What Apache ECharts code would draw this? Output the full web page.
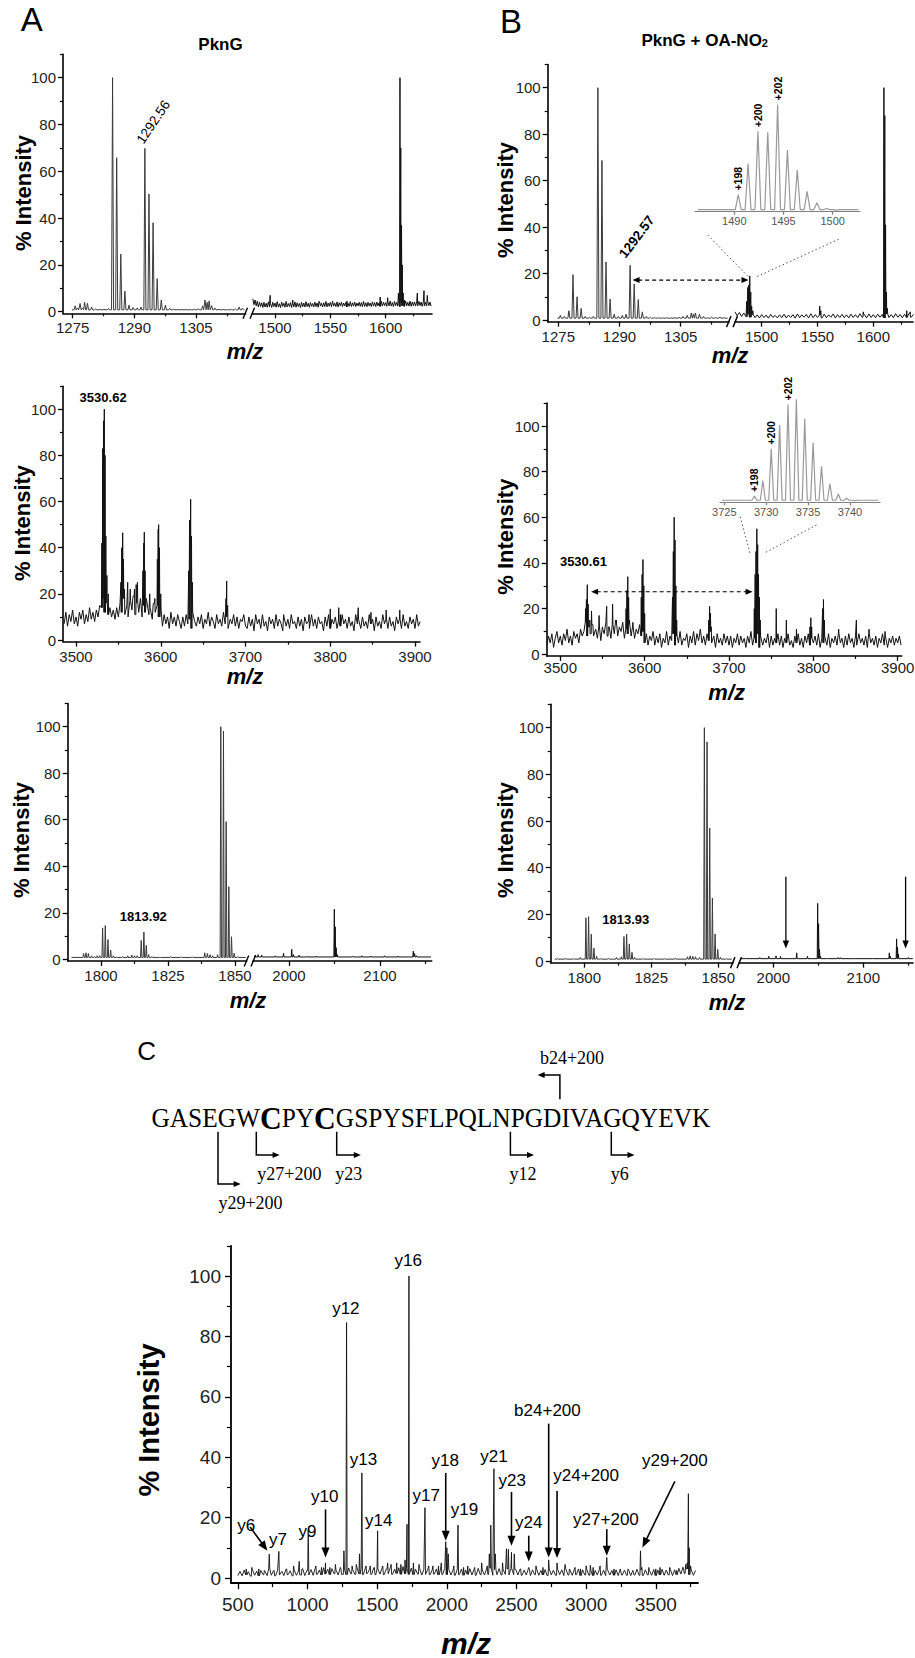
<!DOCTYPE html>
<html><head><meta charset="utf-8">
<script src="https://cdn.jsdelivr.net/npm/echarts@6/dist/echarts.min.js"></script>
<style>html,body{margin:0;padding:0;background:#fff}#c{width:915px;height:1658px}</style>
</head><body><div id="c"></div>
<script>
// ================= DATA =================
// tick labels
const yTicks = [0, 20, 40, 60, 80, 100];
const yMinor = [10, 30, 50, 70, 90, 110];
const lowTicks = [1275, 1290, 1305];
const lowMinor = [1282.5, 1297.5, 1312.5];
const highTicks = [1500, 1550, 1600];
const highMinor = [1525, 1575, 1625];
const midTicks = [3500, 3600, 3700, 3800, 3900];
const midMinor = [3550, 3650, 3750, 3850];
const botLTicks = [1800, 1825, 1850];
const botLMinor = [1812.5, 1837.5];
const botRTicks = [2000, 2100];
const botRMinor = [2050, 2150];
const cTicks = [500, 1000, 1500, 2000, 2500, 3000, 3500];
const cMinor = [750, 1250, 1750, 2250, 2750, 3250, 3750];
const inset1Ticks = [1490, 1495, 1500];
const inset2Ticks = [3725, 3730, 3735, 3740];

// ---- Panel A, top (PknG) : peaks [m/z, % intensity]
const a1LPeaks = [[1275.6,2.5],[1276.2,1.6],[1276.8,3.5],[1277.4,1.6],[1277.9,4],[1278.6,3.6],[1279.6,2],[1280.6,1.2],[1281.6,1],[1282.6,1.1],[1283.7,1.4],
 [1284.7,100],[1285.7,65.8],[1286.7,24.6],[1287.7,8.8],[1288.7,2.8],[1289.7,1.8],[1290.7,1.6],[1291.6,2],
 [1292.56,69.8],[1293.56,50.3],[1294.56,38],[1295.56,14.1],[1296.56,5],[1297.56,2.8],[1298.6,1.5],[1299.6,1.1],[1300.6,1],[1301.6,0.9],[1302.6,1],[1303.6,0.9],[1304.6,1.1],[1305.6,1.3],
 [1306.6,2.5],[1307.2,5],[1307.7,4],[1308.2,4.6],[1308.8,2.6],[1309.6,1.6],[1310.6,1.1],[1311.6,1],[1312.6,0.9],[1313.6,1],[1314.6,1.2],[1315.5,2],[1316.3,1.5]];
const a1RNoise = [5.5,3,5,2.5,4.5,2,4,2.2,3.8,1.8, 4,2,3.6,1.9,4.2,2.1,3.5,1.8,4,2.2, 3.7,1.9,4.3,2,3.4,1.7,4.1,2.3,3.6,1.9, 4.4,2,3.5,2.2,3.9,1.8,3.6,2.1,4.2,1.9,
 3.8,2.2,3.5,1.8,4,2.1,3.7,2,4.3,2.2, 3.6,1.9,3.9,2.3,3.5,2,4.1,2.2,3.7,1.9, 4.2,2.4,3.6,2,3.8,2.2,4.4,2.1,3.7,2.3, 4,2.1,3.9,2.4,3.6,2.2,4.2,2,3.8,2.5,
 4.1,2.2,3.7,2.4,4,2.1,3.6,2.3,4.3,2.2, 3.8,2.4,4.1,2.2,3.7,2.5,4,2.3,3.9,2.2, 4.4,2.3,3.8,2.1,4,2.5,3.7,2.2,4.2,2.4, 3.9,2.2,4.1,2.5,3.8,2.3,4.5,2.4,4,2.6,
 3.9,2.3,4.2,2.5,4.6,2.4,3.9,2.2,4.4,2.6, 4,2.4,4.3,2.2,3.9,2.5,4.1,2.3,4.6,2.5, 4,2.4,4.5,2.3,4.1,2.6,4.2,2.4,4.3,2.5, 4.4,2.6,4.1,2.3,4.2,2.5,4,2.4,4.5,2.6,
 4.1,2.4];
const a1RPeaks = [[1495.6,7],[1516,5],[1540,4.5],[1552,4.5],[1565,4.5],[1595,6.3],[1601.8,6],[1611.5,8],[1612.9,100],[1613.6,70],[1614.3,37],[1615,20],[1615.8,8],[1616.8,5],[1628.6,8],[1634.6,9],[1637.6,7]];

// ---- Panel A, middle
const a2Noise = [7,12,6,11,8,13,7,10,6,12,9,13,7,11,8,14,9,12,8,13,10,15,
 14,18,12,16,11,14,10,13,
 9,14,10,16,12,18,11,15,10,17,13,19,11,16,12,18,10,15,12,17,11,14,9,16,12,15,10,13,
 6,11,7,10,5,12,7,10,6,11, 8,5,10,6,11,7,9,5,12,8, 6,10,7,11,5,9,7,12,6,10, 8,5,11,7,9,6,12,7,10,5, 9,7,11,6,10,5,9,8,11,6,
 5,10,6,9,4,11,7,9,5,10, 6,8,4,10,7,9,5,11,6,9, 7,4,10,6,9,5,11,7,8,5, 10,6,9,4,10,7,8,5,11,6, 9,5,10,7,8,4,10,6,11,5,
 9,7,10,5,8,6,11,7,9,5, 10,6,8,4,11,7,9,5,10,6, 8,5,11,7,9,4,10,6,8,5, 11,7,9,5,10,6,8,4,10,7, 9,5,11,6,8,5,10,7,9,5, 11,6,8];
const a2Peaks = [[3530.5,42],[3531.5,83],[3532.5,95],[3533.4,100],[3534.3,80],[3535.2,45],[3536.5,28],[3538,20],
 [3553,25],[3554,40],[3555.1,46.5],[3556,35],[3557.2,22],[3561,25],[3564,22],[3567,18],[3569,22],[3571,24],[3572.5,25],
 [3579,30],[3580,42],[3580.6,46.7],[3581.5,30],[3583,18],[3587,20],[3591,15],[3593,18],
 [3596,35],[3597,48],[3597.5,50],[3598.5,40],[3600,20],[3633,30],[3634,52],[3635.3,61],[3636.3,45],[3637.3,25],
 [3677,18],[3677.8,25.6],[3679,15],[3720,11],[3745,11],[3775,11],[3800,13.5],[3810,14],[3812,11],[3833,14],[3848,12],[3866,13],[3882,13]];

// ---- Panel A, bottom
const a3LPeaks = [[1793.5,2.5],[1794.4,2.8],[1795.3,2.5],[1796.5,1.5],[1797.5,1.2],[1798.5,1.5],[1799.5,1.6],
 [1800.6,13.5],[1801.6,14.5],[1802.6,8.5],[1803.6,4],[1804.6,1.5],[1806,1],[1808,1.2],[1810,1.5],[1811.5,1.8],[1812.5,1.5],[1813.5,1.5],
 [1815,8.1],[1816,11.7],[1816.9,6],[1817.8,2],[1819,1.2],[1822,0.9],[1826,1.2],[1830,1],[1834,1.1],
 [1838.7,2.8],[1839.7,2.5],[1840.7,2],[1841.7,1.5],[1843.5,2],
 [1844.7,100],[1845.7,98.1],[1846.7,59.2],[1847.7,31.2],[1848.7,9.7],[1849.7,2.6],[1851,1.2]];
const a3RPeaks = [[1963,1.8],[1966,2],[1970,1.8],[1985,1.5],[1994,2.6],[2003,4.3],[2005,2],[2011,1.8],[2020,1.3],[2030,1.4],
 [2049.8,21.5],[2050.8,14],[2051.8,5],[2053,2],[2070,1.3],[2080,1.5],[2090,1.4],[2105,1.5],[2120,1.4],[2136.6,3.5],[2138,2.5],[2140,1.5]];

// ---- Panel B, top (PknG + OA-NO2)
const b1LPeaks = [[1275.5,2],[1276.5,1.5],[1277.6,4],[1278.6,19.5],[1279.6,10],[1280.6,5],[1281.6,1.5],[1282.6,1.2],[1283.6,1.5],
 [1284.7,100],[1285.7,68.7],[1286.7,25],[1287.7,9],[1288.7,2.5],[1289.7,1.5],[1290.7,2],[1291.6,2.5],
 [1292.6,23.5],[1293.6,15.5],[1294.6,8.8],[1295.6,3.5],[1296.6,1.5],[1297.6,1.2],[1298.6,1],[1299.6,1],[1300.6,0.9],[1301.6,1],[1302.6,0.9],[1303.6,1],
 [1304.6,1.2],[1305.6,1.5],[1306.6,2],[1307.6,3],[1308.1,2.5],[1308.6,3],[1309.6,2.5],[1310.6,1.5],[1311.6,1],[1312.6,1.2],[1313.6,1],[1314.6,1.3],[1315.6,1]];
const b1RNoise = [3.5,1.8,3.2,1.5,3,1.4,2.6,1.2,2.4,1, 2.2,0.9,2.3,1,2.1,0.8,2.4,1.1,2,0.9, 2.2,1,2.5,0.9,2.1,1.1,2.3,0.8,2.6,1, 2.2,1.2,2.4,0.9,2.7,1,2.3,1.1,2.1,0.9,
 2.5,1,2.2,1.2,2.6,0.9,2.3,1.1,2.4,1, 2.2,0.9,2.5,1.1,2.3,1,2.7,1.2,2.4,0.9, 2.6,1.1,2.3,1,2.5,1.2,2.4,0.9,2.6,1.1, 2.3,1,2.7,1.2,2.4,1,2.5,1.1,2.8,1.2,
 2.4];
const b1RPeaks = [[1486.5,8],[1487.5,14],[1488.4,15],[1489.3,19],[1490.2,12],[1491,6],[1492,4],[1552,6],[1553,4],[1591,3.5],
 [1609.5,100],[1610.3,88],[1611,41],[1611.8,12],[1612.6,5],[1630,4],[1633,3.5]];
const b1InsetPeaks = [[1490.4,16],[1491.4,45],[1492.4,75],[1493.4,74],[1494.4,100],[1495.4,57.5],[1496.4,39],[1497.4,19],[1498.4,8.4],[1499.4,3],[1500.4,1.5]];

// ---- Panel B, middle
const b2Noise = [4,8,5,9,3,7,10,5,8,4,9,6,11,5,8,4,10,7,9,5,11,8,
 10,14,8,12,9,13,8,11,
 7,12,6,11,9,14,8,12,7,13,9,15,8,12,10,14,7,11,9,13,8,12,7,11,9,13,8,10,
 5,9,4,8,6,10,4,8,5,9, 3,7,5,10,4,8,6,9,4,8, 5,10,4,7,6,9,3,8,5,10, 4,9,6,11,5,8,4,9,6,10, 5,8,3,9,5,7,4,9,5,8,
 4,8,3,7,5,9,4,8,5,7, 3,8,5,10,4,7,5,9,3,8, 4,7,5,9,3,8,4,7,5,9, 4,8,3,7,5,9,4,6,3,8, 5,9,4,7,3,8,5,9,4,7,
 5,8,4,9,3,7,5,8,4,9, 3,7,5,8,4,9,5,7,3,8, 4,9,5,7,3,8,4,9,5,7, 4,8,3,9,5,7,4,8,3,7, 5,9,4,8,3,7,5,8,4,7, 5,8,4];
const b2Peaks = [[3530,20],[3531,24],[3532,30.5],[3533,22],[3535,15],[3537,19],[3539,13],[3546,17],[3550,12],[3555,21],[3557,12],[3562,22],[3566,14],
 [3578,20],[3579,28],[3580,34],[3581,25],[3582,15],[3586,14],[3596,25],[3597,35],[3598,41.5],[3599,30],[3600,18],
 [3633,25],[3634,45],[3635,60],[3636,50],[3637,30],[3638,15],[3676,15],[3677,21],[3678,18],[3679,12],
 [3730,20],[3731,35],[3732,45],[3733,55],[3734,48],[3735,35],[3736,25],[3737,15],
 [3756,20],[3768,15],[3780,11],[3796,12],[3797,16],[3798,12],[3811,20],[3812,24],[3813,15],[3830,11],[3851,15],[3866,11],[3885,10]];
const b2InsetPeaks = [[3728.6,6],[3729.6,21],[3730.6,52],[3731.6,75],[3732.6,95],[3733.6,100],[3734.6,81],[3735.6,58],[3736.6,35],[3737.6,18],[3738.6,8],[3739.6,4],[3740.6,1.5]];

// ---- Panel B, bottom
const b3LPeaks = [[1790,1],[1793,1.2],[1796,1],[1798.5,1.5],[1800.6,18.5],[1801.6,19],[1802.6,11.5],[1803.6,5.5],[1804.6,2],[1806,1],[1809,1.1],[1812,1.5],[1813.8,1.8],
 [1814.8,10.5],[1815.8,11.5],[1816.8,7.3],[1817.8,3.7],[1818.8,1.5],[1822,1],[1826,1.1],[1830,1],[1834,1.2],
 [1838.5,1.8],[1839.5,2.2],[1840.5,2],[1841.5,1.8],[1843,1.5],[1844.8,100],[1845.8,93.9],[1846.8,57],[1847.8,27],[1848.8,11.6],[1849.8,5],[1850.8,1.5],[1853,1]];
const b3RPeaks = [[1970,1.3],[1985,1.5],[1995,2],[2003,2.2],[2008,2],[2026,3.5],[2038,2],[2049.3,24.7],[2050.3,16],[2051.3,5],[2052.5,2],[2060,1.3],
 [2072,1.5],[2075,1.4],[2090,1.2],[2110,1.3],[2128.9,3.5],[2130,2],[2137,9.5],[2138,6],[2139,3],[2150,1.5]];

// ---- Panel C (MS/MS)
const cNoise = [0.8,2.2,0.7,2.6,1,2.1,0.6,2.8,0.9,2.3,0.7,2.5,1.1,2.2,0.8,3,0.9,2.4,0.7,2.6,1,2.2,0.8,2.9,1.1,2.4,0.7,2.7,0.9,2.3,1,3.1,0.8,2.5,
 1,2.8,0.9,3.2,1.2,2.6,1,3.4,1.3,2.9,1.1,3.1,1.4,2.7,1,3.5,1.2,3,1.1,3.3,1.4,2.8,1.2,3.6,1.3,3,1.1,3.2,1.5,2.9,1.2,3.4,1.1,3,
 1.3,3.3,1.1,3,1.4,3.6,1.2,2.9,1.5,3.4,1.2,3.8,1.4,3.1,1.2,3.3,1.1,2.9,1.3,3.2,1,2.8,1.2,3.1,1.1,2.7,1.3,3,1,2.9,1.2,3.2,1.1,2.8,
 1,2.7,0.9,2.9,1.1,3,0.9,2.6,1.2,3.1,1,2.8,0.9,3.2,1.1,2.7,1,3,1.2,3.3,0.9,2.8,1.1,3.1,1,2.7,1.2,3,1,3.2,1.1,2.8,1,2.9,
 0.9,2.6,1,2.9,0.8,2.7,1.1,3,0.9,2.5,1,2.8,0.8,3,1,2.6,0.9,2.9,1.1,2.7,0.8,3.1,1,2.6,0.9,2.8,1.1,3,0.8,2.7,1,2.9,0.9,2.6,
 0.8,2.5,1,2.8,0.9,2.6,0.8,2.9,1,2.5,0.9,2.7,0.8,3,1,2.6,0.9,2.8,0.8,2.5,1,2.9,0.9,2.6,0.8,2.7,1,2.5,0.9,2.8,0.8,2.6,1,2.9,
 0.9,2.6,1,2.9,0.8,2.7,1.1,3.2,1.3,3.6,1.5,3,1.1,2.7,0.9,2.5];
const cPeaks = [[560,3],[600,3.5],[650,3],[690,2.5],[725,7.9],[760,2.5],[794,8.8],[850,3],[900,4],[940,5.5],[960,3],[1005,16],[1060,4],[1100,3.5],[1129,5],[1160,3.5],
 [1200,4.5],[1240,3],[1261,9],[1280,84.6],[1320,4],[1350,4.5],[1373,8],[1390,34.8],[1420,4],[1450,4],[1480,3.5],[1503,15.6],[1540,4],[1575,5],[1600,4.5],[1640,5],
 [1670,4.5],[1700,6],[1714,17.8],[1728,100],[1760,5],[1800,4.5],[1843,23.3],[1870,4],[1900,4],[1940,4],[1960,5],[1992,12],[2000,10],[2010,8],[2050,4],[2080,17.5],
 [2120,3.5],[2150,4],[2200,3.5],[2250,5],[2290,4],[2305,8],[2315,17.5],[2338,36.2],[2348,8],[2400,5],[2428,9.7],[2442,9.5],[2464,8.5],[2484,8],[2530,3],[2588,3.5],
 [2640,4],[2690,3.5],[2731,6],[2791,5],[2849,4.5],[2880,3],[2920,3.5],[2960,3],[3000,4],[3030,4.2],[3050,3.5],[3100,4],[3148,6.8],[3200,3],[3250,3],[3300,3],
 [3340,2.5],[3390,9],[3400,3.5],[3450,3.5],[3500,3],[3530,3.5],[3600,3.5],[3650,2.5],[3700,3],[3715,4.5],[3725,5],[3734,27.9],[3740,10],[3750,4]];
// fragment labels: [text, m/z, intensity] (label centre)
const cLabels = [['y6',560,17.5],['y7',788,12.6],['y9',1000,15.3],['y10',1123,26.9],['y12',1275,89.4],['y13',1401,39.2],['y14',1511,19.2],['y16',1722.5,105],
 ['y17',1852,27.2],['y18',1989,39],['y19',2126,22.7],['y21',2338,40.3],['y23',2470,32.4],['y24',2588,18.4],['b24+200',2722,55.5],['y24+200',3000,33.8],
 ['y27+200',3142,19.4],['y29+200',3637,39]];
// arrows: [m/z from, intensity from, m/z to, intensity to]
const cArrows = [[588,16.9,711.5,9],[1129,22.7,1129,6.8],[1992,34.8,1992,12.3],[2464,28.5,2464,10.7],[2588,14,2588,5.5],[2731,51.1,2731,6.8],
 [2791,28.8,2791,6.6],[3148,16.2,3148,7.4],[3637,32,3404,10.1]];

// peptide sequence
const seqParts = ['GASEGW', 'C', 'PY', 'C', 'GSPYSFLPQLNPGDIVAGQYEVK'];

// ================= LAYOUT =================
const SANS = "'Liberation Sans', Arial, Helvetica, sans-serif";
const SERIF = "'Liberation Serif', 'Times New Roman', serif";
const yA = (y0, y100) => [[0, y0], [100, y100]];
const panels = [
 {name:'a1L', xRef:[[1275,72.7],[1305,196]], xPix:[63,245.5], yRef:yA(311.7,77.7), showY:true, ticks:lowTicks, minor:lowMinor, peaks:a1LPeaks, base:0.8, w:0.25, span:[1274.8,1316.8], color:'#3a3a3a'},
 {name:'a1R', xRef:[[1500,275],[1600,385.7]], xPix:[252,432], yRef:yA(311.7,77.7), ticks:highTicks, minor:highMinor, peaks:a1RPeaks, noise:a1RNoise, nStart:1480, nStep:1, w:0.3, color:'#111'},
 {name:'a2', xRef:[[3500,76],[3900,415]], xPix:[63,420], yRef:yA(640,409.3), showY:true, ticks:midTicks, minor:midMinor, peaks:a2Peaks, noise:a2Noise, nStart:3486, nStep:2, w:0.4, color:'#111'},
 {name:'a3L', xRef:[[1800,101],[1850,235]], xPix:[67.7,246.7], yRef:yA(959.3,726.7), showY:true, ticks:botLTicks, minor:botLMinor, peaks:a3LPeaks, base:0.8, w:0.25, span:[1789,1854], color:'#3a3a3a'},
 {name:'a3R', xRef:[[2000,289],[2100,380]], xPix:[253,431.7], yRef:yA(959.3,726.7), ticks:botRTicks, minor:botRMinor, peaks:a3RPeaks, base:1, w:0.5, span:[1962,2156], color:'#111'},
 {name:'b1L', xRef:[[1275,558.3],[1305,680.7]], xPix:[547.7,729], yRef:yA(320,87.7), showY:true, ticks:lowTicks, minor:lowMinor, peaks:b1LPeaks, base:0.8, w:0.25, span:[1274.8,1316.5], color:'#3a3a3a'},
 {name:'b1R', xRef:[[1500,761.7],[1600,873.3]], xPix:[735,913], yRef:yA(320,87.7), ticks:highTicks, minor:highMinor, peaks:b1RPeaks, noise:b1RNoise, nStart:1476, nStep:2, w:0.3, color:'#111'},
 {name:'b2', xRef:[[3500,560.3],[3900,897.7]], xPix:[546.7,901.7], yRef:yA(654.3,426), showY:true, ticks:midTicks, minor:midMinor, peaks:b2Peaks, noise:b2Noise, nStart:3484, nStep:2, w:0.4, color:'#111', xMargin:4},
 {name:'b3L', xRef:[[1800,584.3],[1850,718.3]], xPix:[550.7,733], yRef:yA(961,727.7), showY:true, ticks:botLTicks, minor:botLMinor, peaks:b3LPeaks, base:0.8, w:0.25, span:[1789,1855], color:'#3a3a3a'},
 {name:'b3R', xRef:[[2000,773.3],[2100,863.3]], xPix:[739,913], yRef:yA(961,727.7), ticks:botRTicks, minor:botRMinor, peaks:b3RPeaks, base:1, w:0.5, span:[1963,2155], color:'#111'},
 {name:'c', xRef:[[500,237.9],[3500,655.8]], xPix:[231,698], yRef:yA(1578,1276), yMin:-1.7, showY:true, big:true, ticks:cTicks, minor:cMinor, peaks:cPeaks, noise:cNoise, nStart:500, nStep:15, w:4, color:'#111', lw:0.9},
 {name:'b1i', xRef:[[1490,734.3],[1500,832.7]], xPix:[695,860], yRef:yA(211.7,104.4), yMin:0, yMax:100, inset:true, ticks:inset1Ticks, minor:[], peaks:b1InsetPeaks, base:2, w:0.3, span:[1486.3,1502.6], color:'#9a9a9a', lw:1.2},
 {name:'b2i', xRef:[[3725,724.3],[3740,850]], xPix:[720,880], yRef:yA(502.3,399.3), yMin:0, yMax:100, inset:true, ticks:inset2Ticks, minor:[], peaks:b2InsetPeaks, base:2, w:0.3, span:[3724.7,3743.4], color:'#9a9a9a', lw:1.2}
];

function buildLine(p) {
  const pts = [];
  let baseAt;
  if (p.noise) {
    p.noise.forEach((v, i) => pts.push([p.nStart + i * p.nStep, v]));
    baseAt = m => { let i = Math.round((m - p.nStart) / p.nStep); i = Math.max(0, Math.min(p.noise.length - 1, i)); return p.noise[i]; };
  } else {
    pts.push([p.span[0], p.base], [p.span[1], p.base]);
    baseAt = () => p.base;
  }
  p.peaks.forEach(([m, h]) => { pts.push([m - p.w, baseAt(m - p.w)], [m, h], [m + p.w, baseAt(m + p.w)]); });
  pts.sort((a, b) => a[0] - b[0]);
  return pts;
}

const option = {animation:false, backgroundColor:'#fff', grid:[], xAxis:[], yAxis:[], series:[]};
const idx = {};
const geom = {};
panels.forEach((p, i) => {
  idx[p.name] = i;
  const yMin = p.yMin != null ? p.yMin : -0.7;
  const yMax = p.yMax != null ? p.yMax : 110;
  const xppu = (p.xRef[1][1] - p.xRef[0][1]) / (p.xRef[1][0] - p.xRef[0][0]);
  const xmin = p.xRef[0][0] + (p.xPix[0] - p.xRef[0][1]) / xppu;
  const xmax = p.xRef[0][0] + (p.xPix[1] - p.xRef[0][1]) / xppu;
  const yppu = (p.yRef[0][1] - p.yRef[1][1]) / (p.yRef[1][0] - p.yRef[0][0]);
  const top = p.yRef[0][1] - (yMax - p.yRef[0][0]) * yppu;
  const bottom = p.yRef[0][1] - (yMin - p.yRef[0][0]) * yppu;
  geom[p.name] = {left:p.xPix[0], right:p.xPix[1], top, bottom};
  option.grid.push({left:p.xPix[0], top:top, width:p.xPix[1] - p.xPix[0], height:bottom - top, containLabel:false, outerBoundsMode:'none'});
  const axCol = p.inset ? '#808080' : '#000';
  const fs = p.big ? 19 : (p.inset ? 11 : 15);
  const lblCol = p.inset ? '#555' : '#222';
  const fmt = v => String(v);
  option.xAxis.push({type:'value', gridIndex:i, position:'bottom', min:xmin, max:xmax,
    axisLine:{show:true, onZero:false, lineStyle:{color:axCol, width:p.inset ? 1.2 : (p.big ? 1.8 : 1.6)}},
    axisTick:{show:true, customValues:p.ticks, length:p.inset ? 3 : (p.big ? 6 : 5), lineStyle:{color:axCol, width:1.3}},
    axisLabel:{show:true, customValues:p.ticks, formatter:fmt, fontSize:fs, color:lblCol, fontFamily:SANS, margin:p.xMargin != null ? p.xMargin : (p.big ? 12 : (p.inset ? 4 : 7))},
    splitLine:{show:false}, minorTick:{show:false}, minorSplitLine:{show:false}});
  option.xAxis.push({type:'value', gridIndex:i, position:'bottom', min:xmin, max:xmax,
    axisLine:{show:false, onZero:false}, axisTick:{show:p.minor.length > 0, customValues:p.minor.length ? p.minor : [xmin], length:p.big ? 4 : 3, lineStyle:{color:axCol, width:1.2}},
    axisLabel:{show:false}, splitLine:{show:false}});
  const showY = !!p.showY;
  option.yAxis.push({type:'value', gridIndex:i, position:'left', min:yMin, max:yMax, show:showY,
    axisLine:{show:showY, onZero:false, lineStyle:{color:'#000', width:p.big ? 1.8 : 1.6}},
    axisTick:{show:showY, customValues:yTicks, length:p.big ? 6 : 5, lineStyle:{color:'#000', width:1.3}},
    axisLabel:{show:showY, customValues:yTicks, formatter:fmt, fontSize:fs, color:lblCol, fontFamily:SANS, margin:p.big ? 10 : 7},
    splitLine:{show:false}});
  option.yAxis.push({type:'value', gridIndex:i, position:'left', min:yMin, max:yMax, show:showY,
    axisLine:{show:false, onZero:false}, axisTick:{show:showY, customValues:yMinor, length:p.big ? 4 : 3, lineStyle:{color:'#000', width:1.2}},
    axisLabel:{show:false}, splitLine:{show:false}});
  option.series.push({type:'line', xAxisIndex:2 * i, yAxisIndex:2 * i, data:buildLine(p), symbol:'none', showSymbol:false,
    lineStyle:{color:p.color, width:p.lw || 1}, silent:true, animation:false, z:3});
});

const chart = echarts.init(document.getElementById('c'), null, {renderer:'svg', width:915, height:1658});
chart.setOption(option);

// ================= ANNOTATIONS =================
const P = (name, x, y) => chart.convertToPixel({xAxisIndex:2 * idx[name], yAxisIndex:2 * idx[name]}, [x, y]);
const g = [];
function txt(x, y, text, o) {
  o = o || {};
  g.push({type:'text', x:x, y:y, rotation:o.rot || 0, scaleX:o.sx || 1, silent:true, z:10,
    style:{text:text, fill:o.color || '#000', fontSize:o.size || 15, fontFamily:o.family || SANS, fontWeight:o.weight || 'normal', fontStyle:o.style || 'normal',
      align:o.align || 'center', verticalAlign:o.valign || 'middle', textAlign:o.align || 'center', textVerticalAlign:o.valign || 'middle', rich:o.rich}});
}
function line(x1, y1, x2, y2, o) {
  o = o || {};
  g.push({type:'line', silent:true, z:10, shape:{x1, y1, x2, y2}, style:{stroke:o.color || '#000', lineWidth:o.w || 1.3, lineDash:o.dash || null}});
}
function head(tx, ty, ux, uy, hl, hw) {
  const bx = tx - ux * hl, by = ty - uy * hl;
  g.push({type:'polygon', silent:true, z:10, shape:{points:[[tx, ty], [bx - uy * hw, by + ux * hw], [bx + uy * hw, by - ux * hw]]}, style:{fill:'#000'}});
}
function arrow(x1, y1, x2, y2, o) {
  o = o || {};
  const hl = o.hl || 9, hw = o.hw || 3.8;
  const dx = x2 - x1, dy = y2 - y1, L = Math.hypot(dx, dy), ux = dx / L, uy = dy / L;
  let sx = x1, sy = y1;
  if (o.both) { sx = x1 + ux * hl * 0.8; sy = y1 + uy * hl * 0.8; head(x1, y1, -ux, -uy, hl, hw); }
  line(sx, sy, x2 - ux * hl * 0.8, y2 - uy * hl * 0.8, o);
  head(x2, y2, ux, uy, hl, hw);
}

// panel letters and titles
txt(31.7, 19.5, 'A', {size:33});
txt(511, 21, 'B', {size:33});
txt(146.7, 1051, 'C', {size:26});
txt(220.5, 44, 'PknG', {size:17, weight:'bold'});
txt(704.7, 40, 'PknG + OA-NO{s|2}', {size:17, weight:'bold', rich:{s:{fontSize:11, fontWeight:'bold', fontFamily:SANS, verticalAlign:'bottom', lineHeight:11, padding:[9, 0, 0, 0]}}});

// axis titles
[[245, 351.7], [245, 676.7], [248, 1000], [730, 355], [726.7, 692], [727, 1002]].forEach(([x, y]) => txt(x, y, 'm/z', {size:22, weight:'bold', style:'italic'}));
txt(466, 1643, 'm/z', {size:30, weight:'bold', style:'italic'});
[[23.3, 193], [22.7, 523], [21.7, 840], [505, 200], [505, 536.7], [505, 840]].forEach(([x, y]) => txt(x, y, '% Intensity', {size:22, weight:'bold', rot:Math.PI / 2}));
txt(148.7, 1420, '% Intensity', {size:29, weight:'bold', rot:Math.PI / 2});

// axis breaks
[['a1L', 'a1R'], ['a3L', 'a3R'], ['b1L', 'b1R'], ['b3L', 'b3R']].forEach(([l, r]) => {
  const yb = geom[l].bottom, xa = geom[l].right, xb = geom[r].left;
  line(xa - 2.5, yb + 5.5, xa + 2, yb - 5.5, {w:1.4});
  line(xb - 2, yb + 5.5, xb + 2.5, yb - 5.5, {w:1.4});
});

// peak labels
let q = P('a1L', 1292.56, 69.8); txt(q[0] + 8.4, q[1] - 26.4, '1292.56', {size:13.5, rot:56 * Math.PI / 180});
q = P('b1L', 1292.6, 23.5); txt(q[0] + 6.6, q[1] - 28.7, '1292.57', {size:13.5, weight:'bold', rot:53 * Math.PI / 180});
q = P('a2', 3532, 105); txt(q[0], q[1], '3530.62', {size:13, weight:'bold'});
q = P('b2', 3527.4, 40.6); txt(q[0], q[1], '3530.61', {size:13, weight:'bold'});
q = P('a3L', 1815.8, 18.3); txt(q[0], q[1], '1813.92', {size:13, weight:'bold'});
q = P('b3L', 1815.5, 17.6); txt(q[0], q[1], '1813.93', {size:13, weight:'bold'});

// inset labels
[[1490.4, 16, '+198'], [1492.4, 75, '+200'], [1494.4, 100, '+202']].forEach(([m, h, t]) => { const r = P('b1i', m, h); txt(r[0], r[1] - 4, t, {size:10.5, weight:'bold', rot:Math.PI / 2, align:'left'}); });
[[3728.6, 6, '+198'], [3730.6, 52, '+200'], [3732.6, 95, '+202']].forEach(([m, h, t]) => { const r = P('b2i', m, h); txt(r[0], r[1] - 4, t, {size:10.5, weight:'bold', rot:Math.PI / 2, align:'left'}); });

// zoom connectors (dotted)
let s1 = P('b1i', 1487.3, -21.7), e1 = P('b1R', 1488, 18.6); line(s1[0], s1[1], e1[0], e1[1], {w:1, dash:[1.5, 2.5], color:'#555'});
s1 = P('b1i', 1500.6, -25.7); e1 = P('b1R', 1495.5, 18.6); line(s1[0], s1[1], e1[0], e1[1], {w:1, dash:[1.5, 2.5], color:'#555'});
s1 = P('b2i', 3726.9, -14); e1 = P('b2', 3725, 44.2); line(s1[0], s1[1], e1[0], e1[1], {w:1, dash:[1.5, 2.5], color:'#555'});
s1 = P('b2i', 3736, -22); e1 = P('b2', 3742.8, 44.5); line(s1[0], s1[1], e1[0], e1[1], {w:1, dash:[1.5, 2.5], color:'#555'});

// dashed mass-shift arrows
s1 = P('b1L', 1293.2, 17.2); e1 = P('b1R', 1488.2, 17.2); arrow(s1[0], s1[1], e1[0], e1[1], {both:true, dash:[4, 3], w:1.2, hl:7, hw:3});
s1 = P('b2', 3536.5, 27.4); e1 = P('b2', 3728, 27.4); arrow(s1[0], s1[1], e1[0], e1[1], {both:true, dash:[4, 3], w:1.2, hl:7, hw:3});

// B bottom arrows
[2014, 2147].forEach(m => { const a = P('b3R', m, 36.1), b = P('b3R', m, 5.4); arrow(a[0], a[1], b[0], b[1], {w:1.3, hl:8, hw:3.2}); });

// C fragment labels and arrows
cLabels.forEach(([t, m, v]) => { const r = P('c', m, v); txt(r[0], r[1], t, {size:17}); });
cArrows.forEach(([m1, v1, m2, v2]) => { const a = P('c', m1, v1), b = P('c', m2, v2); arrow(a[0], a[1], b[0], b[1], {w:1.6, hl:10, hw:4}); });

// peptide sequence with fragmentation markers
txt(151.4, 1118.3, seqParts[0] + '{c|' + seqParts[1] + '}' + seqParts[2] + '{c|' + seqParts[3] + '}' + seqParts[4],
  {size:27, family:SERIF, align:'left', sx:0.94, rich:{c:{fontSize:32, fontWeight:'bold', fontFamily:SERIF}}});
function marker(x, yTop, yBot, xEnd, label, lx, ly) {
  g.push({type:'polyline', silent:true, z:10, shape:{points:[[x, yTop], [x, yBot], [xEnd - 6, yBot]]}, style:{stroke:'#000', lineWidth:1.5, fill:null}});
  head(xEnd, yBot, 1, 0, 7, 3);
  txt(lx, ly, label, {size:18, family:SERIF});
}
marker(218, 1131.7, 1184, 240.7, 'y29+200', 250.5, 1202.7);
marker(256.3, 1131.7, 1155, 279.6, 'y27+200', 289.4, 1174);
marker(336.7, 1131.7, 1155, 360.8, 'y23', 348.8, 1174);
marker(510.4, 1131.7, 1155, 534, 'y12', 522.9, 1174);
marker(611.3, 1131.7, 1155, 634.5, 'y6', 619.7, 1174);
g.push({type:'polyline', silent:true, z:10, shape:{points:[[559.9, 1099.3], [559.9, 1075], [543.6, 1075]]}, style:{stroke:'#000', lineWidth:1.5, fill:null}});
head(537.6, 1075, -1, 0, 7, 3);
txt(572, 1058.3, 'b24+200', {size:18, family:SERIF});

chart.setOption({graphic:{elements:g}});
</script>
</body></html>
